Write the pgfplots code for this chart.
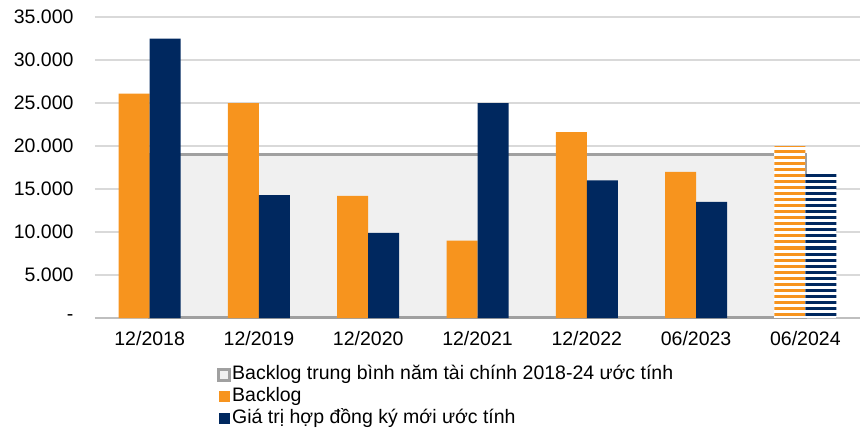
\documentclass[border=0pt]{standalone}
\usepackage{fontspec}
\setmainfont{Liberation Sans}
\usepackage{pgfplots}
\pgfplotsset{compat=1.18}
\usetikzlibrary{patterns.meta}
\definecolor{orangeC}{RGB}{247,148,30}
\definecolor{navyC}{RGB}{0,40,95}
\definecolor{gridC}{RGB}{217,217,217}
\definecolor{areaFill}{RGB}{240,240,240}
\definecolor{areaLine}{RGB}{160,160,160}
\definecolor{axisC}{RGB}{191,191,191}
\begin{document}
\begin{tikzpicture}[x=1pt,y=1pt]
\begin{axis}[
  at={(0,0)}, anchor=south west,
  scale only axis, width=765pt, height=301pt,
  xmin=-0.5, xmax=6.5, ymin=0, ymax=35000,
  scaled y ticks=false,
  xtick={0,...,6},
  xticklabels={12/2018,12/2019,12/2020,12/2021,12/2022,06/2023,06/2024},
  ytick={0,5000,...,35000},
  yticklabels={-,5.000,10.000,15.000,20.000,25.000,30.000,35.000},
  axis x line*=bottom, axis y line*=left,
  y axis line style={draw=none},
  x axis line style={draw=axisC, line width=1.5pt},
  ymajorgrids, grid style={draw=gridC, line width=1.5pt},
  major tick length=0, tick style={draw=none},
  /pgf/number format/assume math mode=true,
  tick label style={font=\fontsize{19.5}{22}\selectfont},
  yticklabel style={xshift=-18pt},
  xticklabel style={yshift=-10pt},
  legend cell align=left,
  legend style={at={(0.1595,-0.152)}, anchor=north west, draw=none, fill=none,
    inner sep=0pt, font=\fontsize{19.5}{22}\selectfont, row sep=0pt,
    nodes={inner sep=1.5pt, text height=14pt, text depth=5pt}},
]
\addplot[fill=areaFill, draw=areaLine, line width=3.5pt,
  legend image code/.code={\draw[fill=areaFill, draw=areaLine, line width=2.5pt] (1.25pt,-5.5pt) rectangle (12.25pt,5.5pt);}]
  coordinates {(0,19000) (6,19000)} \closedcycle;
\addlegendentry{Backlog trung bình năm tài chính 2018-24 ước tính}
\addplot[ybar, bar width=31pt, bar shift=-15.5pt, fill=orangeC, draw=none,
  legend image code/.code={\fill[orangeC] (1.5pt,-5.5pt) rectangle (12.5pt,5.5pt);}]
  coordinates {(0,26100) (1,25000) (2,14200) (3,9000) (4,21600) (5,17000)};
\addlegendentry{Backlog}
\addplot[ybar, bar width=31pt, bar shift=15.5pt, fill=navyC, draw=none,
  legend image code/.code={\fill[navyC] (1.5pt,-5.5pt) rectangle (12.5pt,5.5pt);}]
  coordinates {(0,32500) (1,14300) (2,9900) (3,25000) (4,16000) (5,13500)};
\addlegendentry{Giá trị hợp đồng ký mới ước tính}
\addplot[ybar, bar width=31pt, bar shift=-15.5pt, draw=none, forget plot,
  preaction={fill=white}, pattern={Lines[angle=0,distance=6pt,line width=3pt]}, pattern color=orangeC]
  coordinates {(6,20000)};
\addplot[ybar, bar width=31pt, bar shift=15.5pt, draw=none, forget plot,
  preaction={fill=white}, pattern={Lines[angle=0,distance=6pt,line width=3pt]}, pattern color=navyC]
  coordinates {(6,16700)};
\end{axis}
\pgfresetboundingbox
\path (-95pt,-116pt) rectangle (766pt,318pt);
\end{tikzpicture}
\end{document}
